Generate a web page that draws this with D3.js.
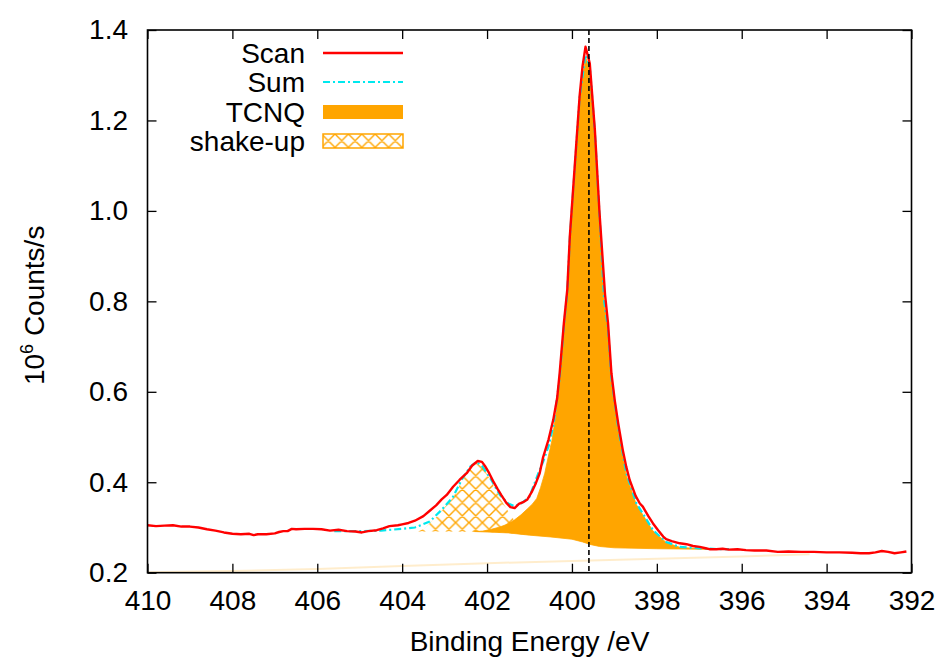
<!DOCTYPE html>
<html>
<head>
<meta charset="utf-8">
<script src="https://cdn.jsdelivr.net/npm/d3@7"></script>
<style>
  html, body { margin: 0; padding: 0; background: #fff; }
  svg text { font-family: "Liberation Sans", Arial, Helvetica, sans-serif; fill: #000; }
</style>
</head>
<body>
<svg id="chart" width="943" height="659"></svg>
<script>
// N 1s spectrum: measured scan, fitted sum and the fit components (10^6 counts/s)
const scanEnergy = [410.0,409.8,409.6,409.4,409.2,409.0,408.8,408.6,408.4,408.2,408.0,407.8,407.6,407.5,407.4,407.2,407.0,406.9,406.8,406.7,406.6,406.5,406.3,406.1,405.9,405.7,405.5,405.3,405.1,404.95,404.8,404.6,404.45,404.3,404.1,404.0,403.85,403.7,403.5,403.35,403.2,403.07,402.95,402.8,402.65,402.48,402.35,402.22,402.12,402.05,401.95,401.86,401.75,401.66,401.55,401.45,401.35,401.25,401.15,401.05,400.95,400.85,400.76,400.68,400.55,400.44,400.35,400.29,400.19,400.11,400.05,399.93,399.82,399.75,399.68,399.63,399.58,399.46,399.35,399.22,399.15,399.07,398.99,398.91,398.8,398.72,398.64,398.5,398.4,398.33,398.2,398.09,397.97,397.85,397.78,397.65,397.46,397.3,397.15,396.99,396.85,396.76,396.6,396.45,396.3,396.1,395.9,395.7,395.42,395.15,394.9,394.6,394.3,394.0,393.7,393.4,393.2,393.0,392.85,392.7,392.55,392.4,392.25,392.12];
const scanCounts = [0.305,0.303,0.304,0.305,0.302,0.302,0.300,0.296,0.293,0.289,0.286,0.285,0.286,0.283,0.285,0.285,0.287,0.290,0.292,0.292,0.297,0.296,0.297,0.297,0.296,0.293,0.295,0.292,0.291,0.289,0.292,0.294,0.298,0.303,0.305,0.307,0.310,0.315,0.325,0.337,0.349,0.362,0.372,0.390,0.405,0.420,0.437,0.447,0.445,0.436,0.420,0.403,0.385,0.371,0.355,0.345,0.343,0.352,0.356,0.362,0.378,0.398,0.420,0.455,0.495,0.538,0.585,0.641,0.752,0.826,0.943,1.105,1.253,1.320,1.363,1.345,1.326,1.179,0.995,0.815,0.752,0.641,0.580,0.530,0.470,0.434,0.405,0.370,0.353,0.346,0.325,0.309,0.294,0.280,0.274,0.270,0.265,0.263,0.259,0.257,0.254,0.252,0.252,0.253,0.251,0.252,0.250,0.249,0.249,0.246,0.247,0.246,0.246,0.245,0.245,0.244,0.243,0.243,0.245,0.248,0.246,0.243,0.245,0.247];

const sumEnergy = [405.6,405.0,404.5,404.0,403.7,403.35,403.07,402.8,402.6,402.4,402.25,402.1,401.9,401.7,401.5,401.35,401.2,401.0,400.8,400.68,400.55,400.44,400.29,400.19,400.11,400.05,399.93,399.82,399.68,399.58,399.46,399.35,399.24,399.15,399.07,398.91,398.72,398.48,398.33,398.09,397.78,397.46,396.99,396.5,396.3];
const sumCounts = [0.292,0.292,0.293,0.297,0.300,0.313,0.339,0.368,0.405,0.434,0.445,0.434,0.405,0.372,0.353,0.347,0.353,0.368,0.418,0.445,0.480,0.524,0.630,0.745,0.820,0.940,1.100,1.250,1.345,1.320,1.175,0.990,0.800,0.740,0.630,0.520,0.420,0.353,0.331,0.294,0.268,0.257,0.254,0.252,0.252];

const tcnqEnergy = [402.3,402.1,401.9,401.7,401.5,401.35,401.2,401.04,400.93,400.83,400.74,400.64,400.55,400.47,400.38,400.29,400.19,400.11,400.05,399.93,399.82,399.68,399.58,399.46,399.35,399.24,399.15,399.07,398.91,398.72,398.48,398.33,398.09,397.78,397.46,396.99,396.5,396.3];
const tcnqCounts = [0.291,0.292,0.296,0.301,0.308,0.317,0.328,0.342,0.352,0.364,0.388,0.420,0.460,0.493,0.550,0.625,0.740,0.815,0.935,1.095,1.245,1.340,1.315,1.170,0.985,0.795,0.735,0.625,0.515,0.415,0.350,0.328,0.292,0.267,0.256,0.253,0.252,0.252];

const shakeEnergy = [403.65,403.47,403.35,403.2,403.07,402.95,402.8,402.6,402.4,402.25,402.1,401.9,401.7,401.55,401.45,401.35,401.2,401.0,400.8];
const shakeCounts = [0.291,0.297,0.310,0.322,0.337,0.350,0.366,0.403,0.432,0.443,0.432,0.403,0.365,0.343,0.328,0.315,0.302,0.292,0.285];

const baseEnergy = [405.6,404.0,403.0,402.0,401.5,401.0,400.5,400.0,399.75,399.55,399.35,399.0,398.0,397.0,396.3];
const baseCounts = [0.291,0.291,0.291,0.290,0.288,0.283,0.279,0.274,0.268,0.262,0.258,0.255,0.253,0.252,0.252];

// weak component trace along the bottom of the window
const traceEnergy = [410.0,408.0,406.0,404.0,402.0,400.0,398.0,396.0,394.4];
const traceCounts = [0.201,0.204,0.208,0.215,0.221,0.226,0.231,0.236,0.241];

const peakMarker = 399.6;

const xTicks = [410,408,406,404,402,400,398,396,394,392];
const yTicks = [0.2,0.4,0.6,0.8,1.0,1.2,1.4];
const legendLabels = ["Scan","Sum","TCNQ","shake-up"];

const colors = { scan: "#ff0000", sum: "#00e8ee", fill: "#ffa500" };

const svg = d3.select("#chart");
const plotLeft = 147.5, plotRight = 911.5, plotTop = 30, plotBottom = 572.7;
const fontSize = 28;

const x = d3.scaleLinear().domain([410, 392]).range([plotLeft, plotRight]);
const y = d3.scaleLinear().domain([0.2, 1.4]).range([plotBottom, plotTop]);

const defs = svg.append("defs");
const hatch = defs.append("pattern")
  .attr("id", "xhatch").attr("patternUnits", "userSpaceOnUse")
  .attr("width", 13.4).attr("height", 13.4);
hatch.append("path").attr("d", "M0,0L13.4,13.4M0,13.4L13.4,0M-1,1L1,-1M12.4,14.4L14.4,12.4M-1,12.4L1,14.4M12.4,-1L14.4,1")
  .attr("stroke", colors.fill).attr("stroke-width", 1.4).attr("fill", "none");

defs.append("clipPath").attr("id", "plotclip").append("rect")
  .attr("x", plotLeft).attr("y", plotTop).attr("width", plotRight - plotLeft).attr("height", plotBottom - plotTop);

const zip = (ex, vs) => ex.map((e, i) => [e, vs[i]]);
const line = d3.line().x(d => x(d[0])).y(d => y(d[1]));

// closed outline: component top then the background underneath it, reversed
function band(ex, vs) {
  const lo = d3.min(ex), hi = d3.max(ex);
  const topPts = zip(ex, vs);
  const basePts = zip(baseEnergy, baseCounts).filter(d => d[0] >= lo && d[0] <= hi).reverse();
  return line(topPts.concat(basePts)) + "Z";
}

const plot = svg.append("g").attr("clip-path", "url(#plotclip)");

plot.append("path").attr("d", line(zip(traceEnergy, traceCounts)))
  .attr("fill", "none").attr("stroke", colors.fill).attr("stroke-opacity", 0.2).attr("stroke-width", 2);

plot.append("path").attr("d", band(shakeEnergy, shakeCounts))
  .attr("fill", "url(#xhatch)").attr("stroke", "none");

plot.append("path").attr("d", band(tcnqEnergy, tcnqCounts))
  .attr("fill", colors.fill).attr("stroke", colors.fill).attr("stroke-width", 0.8);

plot.append("path").attr("d", line(zip(sumEnergy, sumCounts)))
  .attr("fill", "none").attr("stroke", colors.sum).attr("stroke-width", 2.2)
  .attr("stroke-dasharray", "7,3,2,3");

plot.append("path").attr("d", line(zip(scanEnergy, scanCounts)))
  .attr("fill", "none").attr("stroke", colors.scan).attr("stroke-width", 2.4)
  .attr("stroke-linejoin", "round");

plot.append("line")
  .attr("x1", x(peakMarker)).attr("x2", x(peakMarker))
  .attr("y1", plotTop).attr("y2", plotBottom)
  .attr("stroke", "#000").attr("stroke-width", 1.6).attr("stroke-dasharray", "5,3");

// axes with inward ticks, mirrored on the top and right edges
function styleAxis(g) {
  g.select(".domain").remove();
  g.selectAll(".tick line").attr("stroke", "#000").attr("stroke-width", 1.3);
  g.selectAll(".tick text").style("font-size", fontSize + "px")
    .style("font-family", '"Liberation Sans", Arial, sans-serif');
}
svg.append("g").attr("transform", `translate(0,${plotBottom})`)
  .call(d3.axisBottom(x).tickValues(xTicks).tickSize(-9).tickPadding(17).tickFormat(d3.format("d")))
  .call(styleAxis);
svg.append("g").attr("transform", `translate(0,${plotTop})`)
  .call(d3.axisTop(x).tickValues(xTicks).tickSize(-9).tickFormat(""))
  .call(styleAxis);
svg.append("g").attr("transform", `translate(${plotLeft},0)`)
  .call(d3.axisLeft(y).tickValues(yTicks).tickSize(-9).tickPadding(19.5).tickFormat(d3.format(".1f")))
  .call(styleAxis);
svg.append("g").attr("transform", `translate(${plotRight},0)`)
  .call(d3.axisRight(y).tickValues(yTicks).tickSize(-9).tickFormat(""))
  .call(styleAxis);

svg.append("rect").attr("x", plotLeft).attr("y", plotTop)
  .attr("width", plotRight - plotLeft).attr("height", plotBottom - plotTop)
  .attr("fill", "none").attr("stroke", "#000").attr("stroke-width", 1.6);

// axis titles
svg.append("text").attr("x", (plotLeft + plotRight) / 2).attr("y", 651)
  .attr("text-anchor", "middle").style("font-size", fontSize + "px")
  .text("Binding Energy /eV");

const yTitle = svg.append("text")
  .attr("transform", `translate(44,${(plotTop + plotBottom) / 2 + 4}) rotate(-90)`)
  .attr("text-anchor", "middle").style("font-size", fontSize + "px");
yTitle.append("tspan").text("10");
yTitle.append("tspan").attr("dy", -11).style("font-size", "18px").text("6");
yTitle.append("tspan").attr("dy", 11).text(" Counts/s");

// legend
const legend = svg.append("g");
const rowY = [53, 82, 112, 141];
const sx0 = 323, sx1 = 403, textX = 305;
legendLabels.forEach((lab, i) => {
  legend.append("text").attr("x", textX).attr("y", rowY[i] + 10)
    .attr("text-anchor", "end").style("font-size", fontSize + "px").text(lab);
});
legend.append("line").attr("x1", sx0).attr("x2", sx1).attr("y1", rowY[0]).attr("y2", rowY[0])
  .attr("stroke", colors.scan).attr("stroke-width", 2.4);
legend.append("line").attr("x1", sx0).attr("x2", sx1).attr("y1", rowY[1]).attr("y2", rowY[1])
  .attr("stroke", colors.sum).attr("stroke-width", 2.2).attr("stroke-dasharray", "7,3,2,3");
legend.append("rect").attr("x", sx0).attr("y", rowY[2] - 7).attr("width", sx1 - sx0).attr("height", 14)
  .attr("fill", colors.fill);
legend.append("rect").attr("x", sx0).attr("y", rowY[3] - 7).attr("width", sx1 - sx0).attr("height", 14)
  .attr("fill", "url(#xhatch)").attr("stroke", colors.fill).attr("stroke-width", 1.5);
</script>
</body>
</html>
